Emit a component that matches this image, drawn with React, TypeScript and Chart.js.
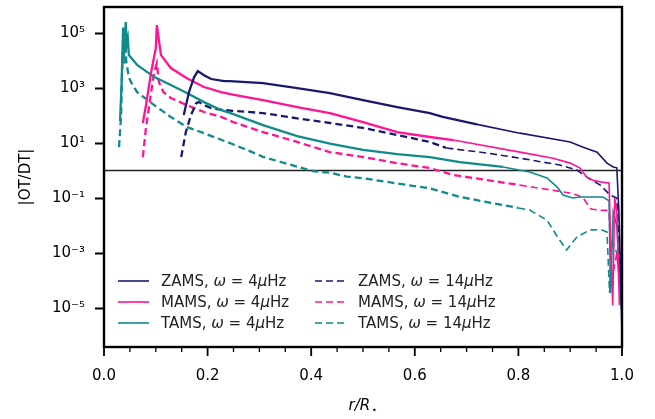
import React, { useEffect, useRef } from "react";
import { Chart, registerables } from "chart.js";
Chart.register(...registerables);

const W = 655;
const H = 419;
const FONT = "'DejaVu Sans', 'Liberation Sans', sans-serif";

const NAVY = "#191970";
const PINK = "#ff1493";
const TEAL = "#108a8a";

// x = r/R*, values are log10 |OT/DT|
const zamsLowX = [0.154, 0.164, 0.174, 0.181, 0.193, 0.207, 0.232, 0.243, 0.307, 0.373, 0.436, 0.5, 0.566, 0.629, 0.654, 0.72, 0.803, 0.9, 0.925, 0.952, 0.971, 0.983, 0.99, 0.994, 0.997, 1.0];
const zamsLowLog = [2.02, 2.85, 3.4, 3.62, 3.47, 3.33, 3.25, 3.25, 3.18, 3.0, 2.82, 2.56, 2.31, 2.09, 1.95, 1.68, 1.36, 1.04, 0.85, 0.67, 0.27, 0.13, 0.1, -1.5, -3.5, -6.0];

const zamsHighX = [0.149, 0.158, 0.168, 0.178, 0.183, 0.193, 0.207, 0.232, 0.307, 0.373, 0.436, 0.5, 0.566, 0.629, 0.661, 0.738, 0.803, 0.88, 0.913, 0.932, 0.958, 0.977, 0.99, 0.995, 1.0];
const zamsHighLog = [0.49, 1.4, 2.02, 2.45, 2.49, 2.38, 2.27, 2.2, 2.09, 1.9, 1.73, 1.55, 1.29, 1.04, 0.82, 0.64, 0.45, 0.2, 0.02, -0.24, -0.53, -0.89, -1.0, -3.0, -5.5];

const mamsLowX = [0.075, 0.081, 0.091, 0.1, 0.102, 0.11, 0.129, 0.16, 0.193, 0.226, 0.251, 0.307, 0.373, 0.436, 0.5, 0.566, 0.629, 0.674, 0.803, 0.867, 0.9, 0.919, 0.932, 0.944, 0.96, 0.975, 0.978, 0.982, 0.986, 0.99, 0.995];
const mamsLowLog = [1.73, 2.38, 3.58, 4.45, 5.29, 4.2, 3.73, 3.36, 3.04, 2.85, 2.75, 2.56, 2.31, 2.09, 1.76, 1.4, 1.22, 1.11, 0.67, 0.45, 0.27, 0.09, -0.24, -0.35, -0.42, -0.45, -2.5, -4.9, -1.0, -1.5, -4.9];

const mamsHighX = [0.075, 0.081, 0.091, 0.097, 0.102, 0.106, 0.115, 0.129, 0.16, 0.193, 0.226, 0.251, 0.307, 0.373, 0.436, 0.5, 0.566, 0.629, 0.674, 0.803, 0.9, 0.913, 0.925, 0.94, 0.96, 0.975, 0.98, 0.99, 1.0];
const mamsHighLog = [0.49, 1.55, 2.85, 3.58, 3.9, 3.22, 2.85, 2.64, 2.38, 2.13, 1.95, 1.75, 1.4, 1.04, 0.67, 0.49, 0.27, 0.09, -0.16, -0.53, -0.82, -0.89, -1.0, -1.4, -1.45, -1.45, -4.0, -3.0, -5.0];

const tamsLowX = [0.031, 0.034, 0.036, 0.037, 0.039, 0.042, 0.044, 0.046, 0.048, 0.064, 0.097, 0.129, 0.16, 0.193, 0.226, 0.243, 0.307, 0.373, 0.436, 0.5, 0.566, 0.629, 0.687, 0.77, 0.822, 0.855, 0.875, 0.886, 0.905, 0.919, 0.963, 0.975, 0.978, 0.983, 0.99, 1.0];
const tamsLowLog = [1.8, 3.2, 4.6, 5.2, 4.4, 5.4, 4.6, 4.8, 4.2, 3.84, 3.4, 3.11, 2.82, 2.49, 2.2, 2.1, 1.65, 1.25, 0.98, 0.75, 0.6, 0.49, 0.31, 0.13, -0.05, -0.27, -0.6, -0.89, -1.0, -0.96, -0.96, -1.1, -4.45, -1.5, -2.0, -5.0];

const tamsHighX = [0.029, 0.033, 0.035, 0.037, 0.039, 0.041, 0.043, 0.048, 0.052, 0.064, 0.097, 0.129, 0.16, 0.193, 0.226, 0.243, 0.276, 0.307, 0.34, 0.373, 0.403, 0.436, 0.469, 0.5, 0.566, 0.629, 0.687, 0.8, 0.822, 0.855, 0.875, 0.893, 0.905, 0.913, 0.938, 0.96, 0.971, 0.976, 0.98, 0.99, 1.0];
const tamsHighLog = [0.85, 2.0, 3.6, 4.6, 3.9, 5.0, 3.95, 3.4, 3.22, 2.85, 2.38, 1.95, 1.58, 1.36, 1.12, 1.0, 0.75, 0.5, 0.32, 0.14, -0.02, -0.08, -0.22, -0.28, -0.47, -0.65, -0.96, -1.36, -1.44, -1.8, -2.4, -2.89, -2.6, -2.42, -2.16, -2.15, -2.24, -4.45, -2.5, -3.0, -5.0];

// r/R* range over which each profile looks noisy (drawn a little thicker)
const noisyUntil = [0.655, 0.63, 0.69, 0.66, 0.69, 0.69];

const refLineX = [0, 1];
const refLineY = [1, 1];

const yTickValues = [1e-5, 1e-3, 1e-1, 1e1, 1e3, 1e5];
const yTickLabels = ["10⁻⁵", "10⁻³", "10⁻¹", "10¹", "10³", "10⁵"];
const xTickValues = [0, 0.2, 0.4, 0.6, 0.8, 1.0];
const xTickLabels = ["0.0", "0.2", "0.4", "0.6", "0.8", "1.0"];
const xMinorTicks = [0.05, 0.1, 0.15, 0.25, 0.3, 0.35, 0.45, 0.5, 0.55, 0.65, 0.7, 0.75, 0.85, 0.9, 0.95];

const stages = ["ZAMS", "MAMS", "TAMS"];
const freqs = ["4", "14"];

function pts(xs: number[], logs: number[]) {
  return xs.map((x, i) => ({ x, y: Math.pow(10, logs[i]) }));
}

const decor = {
  id: "decor",
  afterDraw(chart: any) {
    const { ctx, chartArea } = chart;
    const { left, right, top, bottom } = chartArea;
    const xs = chart.scales.x;
    const ys = chart.scales.y;
    ctx.save();
    ctx.strokeStyle = "#000";
    ctx.lineWidth = 1.8;
    ctx.beginPath();
    for (const v of yTickValues) {
      const y = Math.round(ys.getPixelForValue(v)) + 0.5;
      ctx.moveTo(left - 9, y);
      ctx.lineTo(left, y);
    }
    for (const v of xTickValues) {
      const x = xs.getPixelForValue(v);
      ctx.moveTo(x, bottom);
      ctx.lineTo(x, bottom + 9);
    }
    ctx.stroke();
    ctx.lineWidth = 1.3;
    ctx.beginPath();
    for (const v of xMinorTicks) {
      const x = xs.getPixelForValue(v);
      ctx.moveTo(x, bottom);
      ctx.lineTo(x, bottom + 5);
    }
    ctx.stroke();
    ctx.lineWidth = 2.4;
    ctx.strokeRect(left, top, right - left, bottom - top);

    ctx.fillStyle = "#000";
    ctx.textBaseline = "alphabetic";
    ctx.font = `italic 15px ${FONT}`;
    const t1 = "r/R";
    const w1 = ctx.measureText(t1).width;
    ctx.font = `10px ${FONT}`;
    const w2 = ctx.measureText("⋆").width;
    const cx = (left + right) / 2;
    const sx = cx - (w1 + w2 + 1) / 2;
    ctx.font = `italic 15px ${FONT}`;
    ctx.textAlign = "left";
    ctx.fillText(t1, sx, 410);
    ctx.font = `10px ${FONT}`;
    ctx.fillText("⋆", sx + w1 + 1, 413);

    ctx.save();
    ctx.translate(26, (top + bottom) / 2);
    ctx.rotate(-Math.PI / 2);
    ctx.textAlign = "center";
    ctx.textBaseline = "middle";
    ctx.font = `15px ${FONT}`;
    ctx.fillText("|OT/DT|", 0, 0);
    ctx.restore();

    const colors = [NAVY, PINK, TEAL];
    const colX = [118, 315];
    const rowY = [281, 302, 323];
    for (let c = 0; c < 2; c++) {
      for (let r = 0; r < 3; r++) {
        const y = rowY[r];
        const x0 = colX[c];
        ctx.strokeStyle = colors[r];
        ctx.lineWidth = 1.6;
        ctx.setLineDash(c === 1 ? [7, 4] : []);
        ctx.beginPath();
        ctx.moveTo(x0, y);
        ctx.lineTo(x0 + 31, y);
        ctx.stroke();
        ctx.setLineDash([]);
        const parts: [string, boolean][] = [
          [stages[r] + ", ", false],
          ["ω", true],
          [" = " + freqs[c], false],
          ["μ", true],
          ["Hz", false],
        ];
        let tx = x0 + 43;
        ctx.fillStyle = "#222";
        ctx.textAlign = "left";
        ctx.textBaseline = "middle";
        for (const [s, it] of parts) {
          ctx.font = `${it ? "italic " : ""}15px ${FONT}`;
          ctx.fillText(s, tx, y + 1);
          tx += ctx.measureText(s).width;
        }
      }
    }
    ctx.restore();
  },
};

export default function App() {
  const ref = useRef<HTMLCanvasElement | null>(null);
  useEffect(() => {
    if (!ref.current) return;
    const mk = (label: string, xs: number[], logs: number[], color: string, dashed: boolean, noisy: number) => ({
      label,
      data: pts(xs, logs),
      borderColor: color,
      backgroundColor: color,
      borderWidth: 1.6,
      borderDash: dashed ? [7, 4] : [],
      pointRadius: 0,
      tension: 0,
      fill: false,
      segment: {
        borderWidth: (c: any) => (c.p0.parsed.x < noisy ? 2.3 : 1.6),
      },
    });
    const chart = new Chart(ref.current, {
      type: "line",
      data: {
        datasets: [
          mk("ZAMS 4", zamsLowX, zamsLowLog, NAVY, false, noisyUntil[0]),
          mk("MAMS 4", mamsLowX, mamsLowLog, PINK, false, noisyUntil[1]),
          mk("TAMS 4", tamsLowX, tamsLowLog, TEAL, false, noisyUntil[2]),
          mk("ZAMS 14", zamsHighX, zamsHighLog, NAVY, true, noisyUntil[3]),
          mk("MAMS 14", mamsHighX, mamsHighLog, PINK, true, noisyUntil[4]),
          mk("TAMS 14", tamsHighX, tamsHighLog, TEAL, true, noisyUntil[5]),
          {
            label: "ref",
            data: refLineX.map((x, i) => ({ x, y: refLineY[i] })),
            borderColor: "#222",
            borderWidth: 1.4,
            pointRadius: 0,
            fill: false,
          },
        ] as any,
      },
      options: {
        responsive: false,
        animation: false,
        devicePixelRatio: 1,
        events: [],
        layout: { padding: { left: 0, right: 33, top: 7, bottom: 0 } },
        plugins: { legend: { display: false }, tooltip: { enabled: false } },
        scales: {
          x: {
            type: "linear",
            min: 0,
            max: 1,
            afterFit: (s: any) => {
              s.height = 72;
              s.paddingLeft = 0;
              s.paddingRight = 0;
            },
            afterBuildTicks: (s: any) => {
              s.ticks = xTickValues.map((v) => ({ value: v }));
            },
            grid: { display: false, drawTicks: false },
            border: { display: false },
            ticks: {
              padding: 20,
              color: "#000",
              font: { family: FONT, size: 15 },
              maxRotation: 0,
              autoSkip: false,
              callback: (v: any) => {
                const i = xTickValues.findIndex((t) => Math.abs(t - v) < 1e-6);
                return i >= 0 ? xTickLabels[i] : "";
              },
            },
          },
          y: {
            type: "logarithmic",
            min: Math.pow(10, -6.42),
            max: Math.pow(10, 5.95),
            afterFit: (s: any) => {
              s.width = 104;
              s.paddingTop = 0;
              s.paddingBottom = 0;
            },
            afterBuildTicks: (s: any) => {
              s.ticks = yTickValues.map((v) => ({ value: v }));
            },
            grid: { display: false, drawTicks: false },
            border: { display: false },
            ticks: {
              padding: 19,
              color: "#000",
              font: { family: FONT, size: 15 },
              autoSkip: false,
              callback: (v: any) => {
                const i = yTickValues.findIndex((t) => Math.abs(Math.log10(t) - Math.log10(v)) < 1e-6);
                return i >= 0 ? yTickLabels[i] : "";
              },
            },
          },
        },
      } as any,
      plugins: [decor],
    });
    return () => chart.destroy();
  }, []);
  return (
    <div style={{ position: "absolute", left: 0, top: 0, width: W, height: H, background: "#fff" }}>
      <canvas ref={ref} width={W} height={H} style={{ width: W, height: H, display: "block" }} />
    </div>
  );
}
